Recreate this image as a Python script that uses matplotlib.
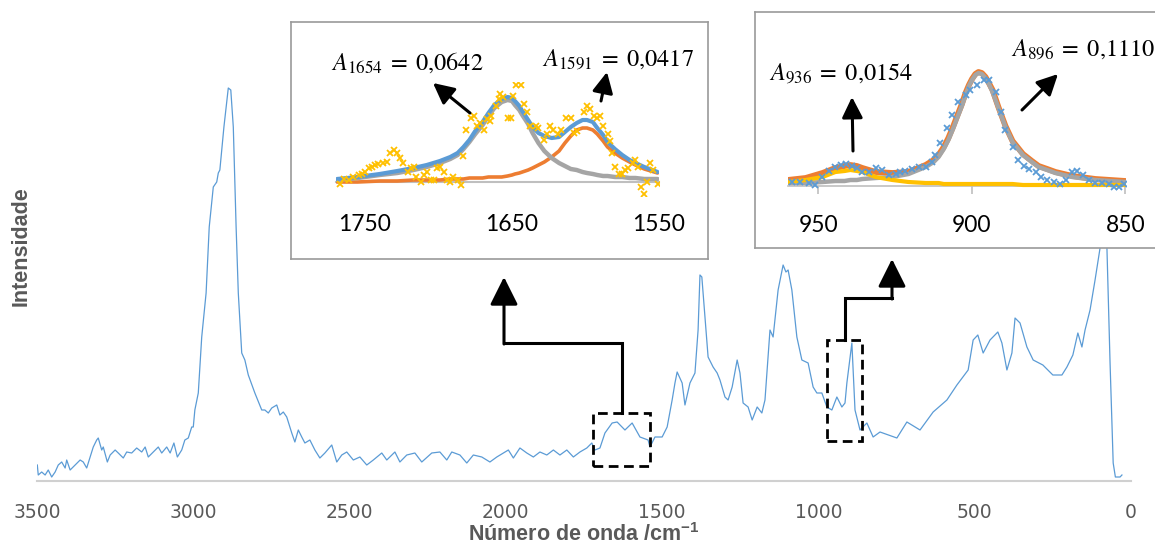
import numpy as np
import matplotlib.pyplot as plt
from matplotlib.patches import Rectangle

# ---- main Raman spectrum (wavenumber / cm-1, intensity in arbitrary units)
wn = [3499, 3496, 3485, 3474, 3464, 3453, 3442, 3432, 3421, 3410, 3405, 3394, 3378, 3362, 3352,
      3341, 3330, 3320, 3309, 3304, 3293, 3288, 3275, 3266, 3250, 3240, 3224, 3213, 3197, 3181,
      3165, 3154, 3144, 3128, 3112, 3101, 3085, 3074, 3062, 3051, 3037, 3027, 3016, 3005, 3000,
      2995, 2984, 2973, 2959, 2949, 2936, 2925, 2920, 2915, 2902, 2888, 2880, 2872, 2863, 2856,
      2845, 2835, 2824, 2803, 2781, 2771, 2760, 2749, 2733, 2723, 2712, 2701, 2685, 2675, 2664,
      2653, 2643, 2627, 2611, 2595, 2579, 2557, 2541, 2525, 2509, 2488, 2467, 2445, 2424, 2397,
      2381, 2355, 2339, 2317, 2291, 2269, 2237, 2211, 2189, 2173, 2147, 2125, 2104, 2077, 2051,
      2029, 2008, 1992, 1976, 1955, 1933, 1912, 1891, 1869, 1848, 1827, 1805, 1784, 1763, 1741,
      1725, 1715, 1699, 1683, 1660, 1644, 1619, 1596, 1571, 1545, 1539, 1523, 1500, 1484, 1468,
      1459, 1452, 1436, 1427, 1411, 1395, 1385, 1379, 1373, 1363, 1353, 1337, 1324, 1315, 1299,
      1289, 1276, 1260, 1251, 1241, 1225, 1212, 1196, 1181, 1171, 1155, 1145, 1129, 1113, 1104,
      1097, 1085, 1069, 1053, 1033, 1017, 1005, 989, 973, 957, 941, 925, 915, 909, 893,
      883, 867, 845, 825, 803, 749, 717, 675, 633, 589, 557, 521, 505, 490, 473,
      451, 426, 413, 397, 381, 371, 355, 333, 313, 282, 250, 221, 205, 186, 170,
      157, 147, 131, 115, 99, 86, 77, 67, 57, 50, 35, 29]
inten = [16, 6, 9, 6, 11, 4, 9, 16, 19, 13, 21, 11, 16, 21, 19,
         13, 24, 34, 41, 43, 31, 34, 19, 26, 31, 28, 23, 29, 28, 33,
         29, 34, 24, 29, 34, 28, 34, 28, 38, 24, 31, 41, 43, 54, 54,
         71, 88, 144, 188, 254, 294, 299, 308, 311, 354, 393, 391, 354, 254, 188,
         128, 121, 106, 88, 71, 71, 68, 73, 76, 66, 69, 64, 48, 39, 51,
         44, 38, 41, 31, 23, 28, 36, 19, 26, 29, 21, 24, 16, 21, 28,
         21, 29, 19, 26, 28, 19, 28, 29, 21, 29, 26, 18, 26, 24, 19,
         24, 28, 31, 23, 33, 28, 24, 29, 26, 31, 26, 31, 24, 29, 33,
         38, 31, 33, 48, 58, 59, 51, 58, 44, 41, 34, 44, 44, 54, 81,
         98, 109, 98, 76, 98, 108, 151, 206, 204, 164, 124, 114, 108, 101, 84,
         81, 94, 121, 108, 78, 74, 61, 74, 68, 81, 151, 144, 191, 216, 209,
         211, 191, 144, 121, 118, 94, 88, 88, 74, 71, 84, 74, 78, 98, 138,
         71, 51, 58, 44, 49, 43, 59, 51, 69, 81, 96, 111, 141, 146, 128,
         141, 149, 138, 111, 128, 163, 158, 134, 121, 116, 106, 106, 114, 126, 148,
         134, 151, 171, 201, 233, 300, 233, 118, 18, 4, 4, 6]

# ---- inset 1: 1770-1550 cm-1
i1_wn = [1767, 1764, 1761, 1758, 1754, 1752, 1750, 1747, 1745, 1743, 1741, 1738, 1735, 1733,
         1730, 1728, 1726, 1724, 1721, 1719, 1717, 1715, 1712, 1710, 1708, 1705, 1703, 1701,
         1699, 1696, 1694, 1692, 1690, 1687, 1685, 1683, 1681, 1678, 1676, 1674, 1672, 1669,
         1667, 1665, 1664, 1661, 1659, 1658, 1656, 1653, 1651, 1649, 1647, 1644, 1642, 1640,
         1638, 1634, 1632, 1628, 1626, 1624, 1622, 1619, 1617, 1613, 1610, 1608, 1606, 1601,
         1599, 1597, 1594, 1592, 1590, 1588, 1585, 1583, 1582, 1580, 1577, 1575, 1573, 1571,
         1568, 1566, 1564, 1562, 1560, 1558, 1556, 1554, 1551]
i1_obs = [-2, 3, 2, 5, 7, 8, 10, 14, 15, 17, 18, 19, 20, 29,
          32, 29, 24, 19, 10, 14, 15, 5, 0, 7, 10, 2, 2, 14,
          15, 10, 2, 0, 5, 2, -3, 26, 52, 64, 66, 56, 59, 52,
          63, 61, 66, 76, 83, 88, 85, 64, 64, 86, 97, 97, 78, 70,
          56, 56, 54, 42, 48, 56, 52, 48, 52, 64, 64, 49, 51, 70,
          76, 73, 66, 64, 66, 56, 48, 41, 29, 15, 8, 8, 12, 14,
          19, 22, 15, -5, -12, 0, 19, 12, -2]
i1_fit_wn = [1769, 1755, 1740, 1728, 1717, 1708, 1699, 1692, 1687, 1683, 1679, 1675, 1670,
             1666, 1662, 1657, 1653, 1650, 1648, 1645, 1643, 1639, 1636, 1632, 1628, 1623,
             1618, 1614, 1610, 1606, 1602, 1599, 1595, 1592, 1588, 1585, 1580, 1575, 1570,
             1566, 1560, 1551]
i1_total = [3, 5, 8, 11, 14, 17, 21, 25, 29, 35, 42, 51, 60,
            69, 77, 83, 85, 84, 81, 76, 71, 62, 55, 49, 46, 44,
            45, 50, 55, 59, 62, 62, 60, 54, 47, 40, 33, 27, 22,
            19, 15, 10]
i1_p1654 = [2, 4, 7, 9, 12, 15, 19, 23, 27, 33, 40, 48, 57,
            66, 74, 80, 82, 81, 77, 72, 67, 58, 49, 39, 31, 24,
            19, 16, 13, 12, 10, 9, 8, 7, 6, 6, 5, 5, 4,
            4, 3, 3]
i1_p1591 = [0, 0, 1, 1, 2, 2, 2, 3, 3, 3, 4, 4, 4,
            5, 5, 5, 6, 7, 8, 9, 10, 12, 14, 17, 20, 25,
            31, 39, 46, 52, 54, 54, 52, 48, 41, 35, 29, 24, 20,
            17, 13, 9]
i1_ticks = [1750, 1650, 1550]

# ---- inset 2: 960-850 cm-1
i2_wn = [958.6, 955.9, 953.2, 951.0, 948.8, 946.6, 944.5, 942.8, 941.2, 939.0, 937.4, 935.8,
         933.6, 931.4, 929.3, 927.1, 924.9, 923.3, 921.7, 919.5, 917.3, 915.1, 913.0, 911.9,
         910.3, 908.1, 906.4, 904.5, 902.1, 900.5, 898.3, 896.2, 894.5, 892.3, 890.7, 889.1,
         886.7, 884.9, 883.1, 881.3, 879.3, 877.4, 875.5, 873.4, 871.2, 869.3, 867.4, 865.7,
         863.8, 862.0, 859.8, 857.6, 855.4, 853.8, 852.2, 850.6]
i2_obs = [4, 4, 3, 1, 9, 15, 19, 21, 22, 20, 18, 14,
          14, 18, 16, 11, 12, 14, 15, 17, 19, 19, 24, 31,
          43, 58, 71, 84, 91, 96, 101, 106, 106, 94, 74, 56,
          39, 26, 20, 17, 14, 9, 6, 4, 2, 6, 14, 15,
          11, 6, 3, 3, 2, -1, -1, 2]
i2_fit_wn = [960, 954.2, 948.7, 944.5, 941.5, 939.6, 937.5, 935.7, 931.4, 925.9, 920.7, 915.1,
             912.5, 910.9, 909.2, 907.7, 906.2, 904.7, 903.3, 902.1, 901, 900, 898.9, 897.9,
             896.8, 895.6, 894.5, 893.3, 891.4, 889.1, 886.8, 883.4, 880.5, 878.3, 875.5, 872.8,
             867.3, 859.8, 850]
i2_total = [6, 8, 13, 18, 20, 21, 20, 18, 14, 13, 14, 21,
            26, 31, 39, 48, 59, 71, 82, 93, 101, 107, 112, 114,
            113, 109, 103, 96, 79, 60, 45, 32, 25, 20, 17, 14,
            10, 7, 5]
i2_p896 = [3, 3, 4, 5, 5, 6, 6, 7, 8, 9, 12, 19,
           24, 29, 37, 46, 57, 69, 80, 91, 100, 106, 111, 113,
           112, 108, 102, 94, 78, 59, 44, 31, 24, 19, 16, 13,
           9, 6, 4]
i2_p936 = [4, 6, 9, 14, 15, 16, 15, 14, 9, 6, 4, 3,
           3, 3, 2, 2, 2, 2, 2, 2, 2, 2, 2, 2,
           2, 2, 2, 2, 2, 2, 2, 1, 1, 1, 1, 1,
           1, 1, 1]
i2_ticks = [950, 900, 850]

main_ticks = [3500, 3000, 2500, 2000, 1500, 1000, 500, 0]

BLUE = '#5B9BD5'
ORANGE = '#ED7D31'
GRAY = '#A5A5A5'
YELLOW = '#FFC000'
TXT = '#595959'

plt.rcParams['mathtext.fontset'] = 'stix'

W, H = 1155, 549
fig = plt.figure(figsize=(W / 100, H / 100), dpi=100)


def px_axes(x0, y0, x1, y1, **kw):
    return fig.add_axes([x0 / W, 1 - y1 / H, (x1 - x0) / W, (y1 - y0) / H], **kw)


# main axes
ax = px_axes(37, 11, 1131, 481)
ax.plot(wn, inten, color=BLUE, lw=0.9)
ax.set_xlim(3500, 0)
ax.set_ylim(0, 470)
for s in ['top', 'right', 'left']:
    ax.spines[s].set_visible(False)
ax.spines['bottom'].set_color('#D0D0D0')
ax.spines['bottom'].set_linewidth(1.5)
ax.set_yticks([])
ax.set_xticks(main_ticks)
ax.set_xticklabels([str(t) for t in main_ticks])
ax.tick_params(axis='x', length=0, pad=16, labelsize=13.5, labelcolor=TXT)
ax.set_xlabel('Número de onda /cm$^{\\mathregular{-1}}$', fontsize=15.5, fontweight='bold',
              color=TXT, family='Liberation Sans', labelpad=1)
ax.set_ylabel('Intensidade', fontsize=15.5, fontweight='bold', color=TXT,
              family='Liberation Sans', labelpad=4)

# dashed boxes over the two zoomed regions
ax.add_patch(Rectangle((1722, 15), 1539 - 1722, 68 - 15, fill=False, ec='k', lw=2,
                       ls=(0, (3.5, 2)), zorder=5))
ax.add_patch(Rectangle((973, 40), 861 - 973, 141 - 40, fill=False, ec='k', lw=2,
                       ls=(0, (3.5, 2)), zorder=5))

# ---- inset frames
for (x0, y0, x1, y1) in [(291, 22, 708, 259), (755, 12, 1160, 248)]:
    fr = px_axes(x0, y0, x1, y1)
    fr.set_xticks([])
    fr.set_yticks([])
    for s in fr.spines.values():
        s.set_color('#9A9A9A')
        s.set_linewidth(1.2)

# inset 1
a1 = px_axes(335.6, 82, 659, 196)
a1.patch.set_alpha(0)
a1.plot(i1_fit_wn, i1_p1591, color=ORANGE, lw=2.6, solid_capstyle='round')
a1.plot(i1_fit_wn, i1_p1654, color=GRAY, lw=3.2, solid_capstyle='round')
a1.plot(i1_fit_wn, i1_total, color=BLUE, lw=3.0, solid_capstyle='round')
a1.plot(i1_wn, i1_obs, ls='none', marker='x', ms=5, mew=1.3, color=YELLOW)
a1.set_xlim(1770, 1550)
a1.set_ylim(-14, 100)
for s in ['top', 'right', 'left']:
    a1.spines[s].set_visible(False)
a1.spines['bottom'].set_position(('data', 0))
a1.spines['bottom'].set_color('#BFBFBF')
a1.spines['bottom'].set_linewidth(1.5)
a1.spines['bottom'].set_zorder(0)
a1.set_yticks([])
a1.set_xticks(i1_ticks)
a1.tick_params(axis='x', length=0, pad=23, labelsize=16.5)
for lab in a1.get_xticklabels():
    lab.set_family('Lato')

# inset 2
a2 = px_axes(787.8, 60, 1125.5, 200)
a2.patch.set_alpha(0)
a2.plot(i2_fit_wn, i2_total, color=ORANGE, lw=4.2, solid_capstyle='round')
a2.plot(i2_fit_wn, i2_p896, color=GRAY, lw=3.2, solid_capstyle='round')
a2.plot(i2_fit_wn, i2_p936, color=YELLOW, lw=3.0, solid_capstyle='round')
a2.plot(i2_wn, i2_obs, ls='none', marker='x', ms=5, mew=1.3, color=BLUE)
a2.set_xlim(960, 850)
a2.set_ylim(-14, 126)
for s in ['top', 'right', 'left']:
    a2.spines[s].set_visible(False)
a2.spines['bottom'].set_position(('data', 0))
a2.spines['bottom'].set_color('#BFBFBF')
a2.spines['bottom'].set_linewidth(1.2)
a2.spines['bottom'].set_zorder(0)
a2.set_yticks([])
a2.set_xticks(i2_ticks)
a2.tick_params(axis='x', direction='out', length=6, width=1.2, color='#BFBFBF',
               pad=15, labelsize=16.5)
for lab in a2.get_xticklabels():
    lab.set_family('Lato')

# ---- overlay for texts, arrows and connectors (pixel coordinates)
ov = fig.add_axes([0, 0, 1, 1], zorder=10)
ov.set_xlim(0, W)
ov.set_ylim(H, 0)
ov.axis('off')
ov.patch.set_alpha(0)

fs = 17.5
ov.text(407, 63, r'$A_{1654}\;=\;0{,}0642$', fontsize=fs, ha='center', va='center')
ov.text(618, 59, r'$A_{1591}\;=\;0{,}0417$', fontsize=fs, ha='center', va='center')
ov.text(841, 73, r'$A_{936}\;=\;0{,}0154$', fontsize=fs, ha='center', va='center')
ov.text(1083, 49, r'$A_{896}\;=\;0{,}1110$', fontsize=fs, ha='center', va='center')

small = dict(arrowstyle='-|>,head_length=0.9,head_width=0.45', color='k', lw=2.2,
             shrinkA=0, shrinkB=0, mutation_scale=14)
ov.annotate('', xy=(433, 83), xytext=(470, 113), arrowprops=small)
ov.annotate('', xy=(607, 72), xytext=(601, 101), arrowprops=small)
ov.annotate('', xy=(852, 97), xytext=(853, 151), arrowprops=small)
ov.annotate('', xy=(1058, 74), xytext=(1022, 110), arrowprops=small)

big = dict(arrowstyle='-|>,head_length=0.9,head_width=0.45', color='k', lw=2.2,
           shrinkA=0, shrinkB=0, mutation_scale=19)
ov.plot([621.5, 621.5, 504], [413, 343, 343], color='k', lw=2.2, solid_joinstyle='miter')
ov.annotate('', xy=(504, 277), xytext=(504, 344), arrowprops=big)
ov.plot([845, 845, 892], [340, 298, 298], color='k', lw=2.2, solid_joinstyle='miter')
ov.annotate('', xy=(892, 259), xytext=(892, 299), arrowprops=big)

fig.savefig('out.png', dpi=100)
